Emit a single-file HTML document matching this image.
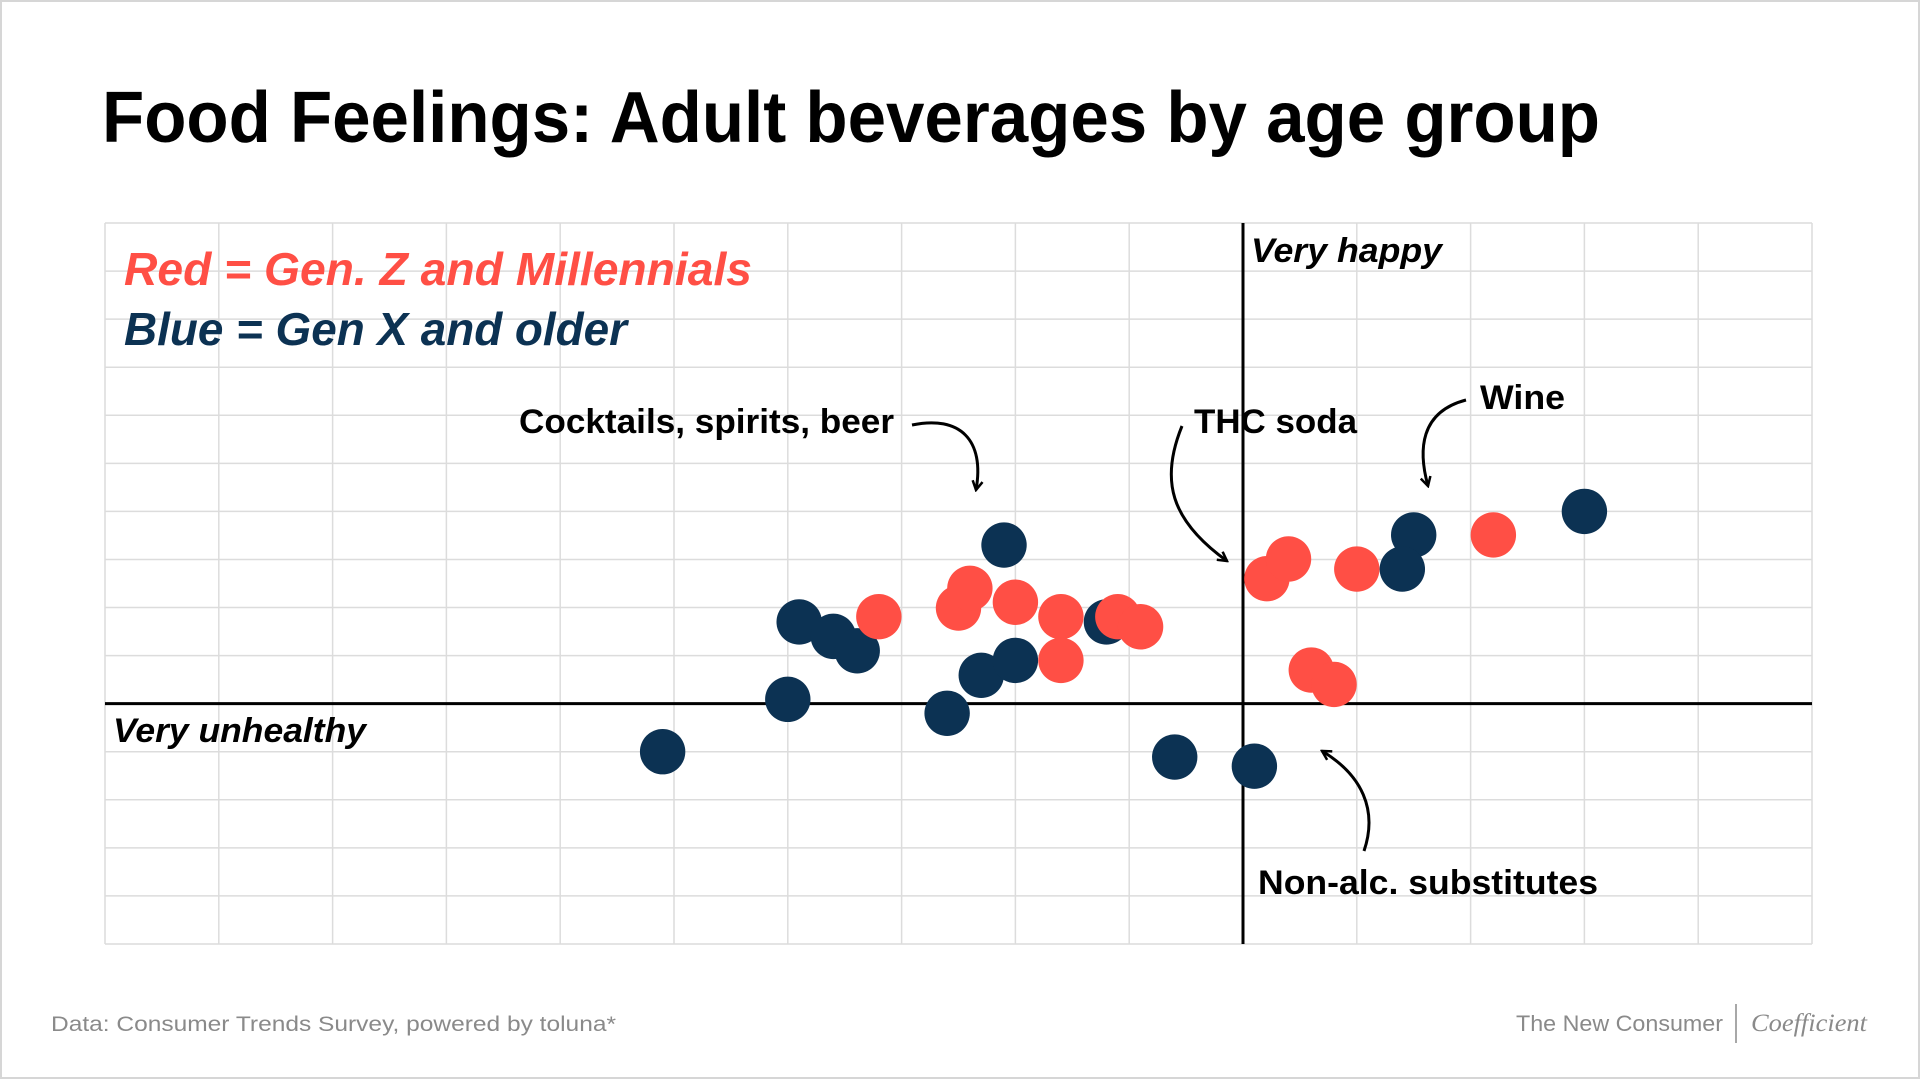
<!DOCTYPE html>
<html><head><meta charset="utf-8"><style>
html,body{margin:0;padding:0;background:#fff;}
svg{display:block;font-family:"Liberation Sans",sans-serif;}
</style></head><body>
<svg id="chart" width="1920" height="1080" viewBox="0 0 1920 1080">
<defs>
<marker id="ah" viewBox="0 0 12 12" refX="10" refY="6" markerWidth="12" markerHeight="12" markerUnits="userSpaceOnUse" orient="auto">
<path d="M1,1 L10,6 L1,11" fill="none" stroke="#000" stroke-width="2.5"/>
</marker>
</defs>
<rect x="1" y="1" width="1918" height="1077" fill="#fff" stroke="#d6d6d6" stroke-width="2"/>
<text x="102" y="142" font-size="72" font-weight="bold" fill="#000" textLength="1498" lengthAdjust="spacingAndGlyphs">Food Feelings: Adult beverages by age group</text>
<g id="grid"></g>
<g id="axes"></g>
<g id="pts"></g>
<text x="124" y="285" font-size="46" font-weight="bold" font-style="italic" fill="#FF4F45" textLength="628" lengthAdjust="spacingAndGlyphs">Red = Gen. Z and Millennials</text>
<text x="124" y="345" font-size="46" font-weight="bold" font-style="italic" fill="#0C3253" textLength="503" lengthAdjust="spacingAndGlyphs">Blue = Gen X and older</text>
<text x="1251" y="262" font-size="34" font-weight="bold" font-style="italic" fill="#000" textLength="191" lengthAdjust="spacingAndGlyphs">Very happy</text>
<text x="113" y="742" font-size="34" font-weight="bold" font-style="italic" fill="#000" textLength="253" lengthAdjust="spacingAndGlyphs">Very unhealthy</text>
<text x="519" y="433" font-size="34" font-weight="bold" fill="#000" textLength="375" lengthAdjust="spacingAndGlyphs">Cocktails, spirits, beer</text>
<text x="1194" y="433" font-size="34" font-weight="bold" fill="#000" textLength="163" lengthAdjust="spacingAndGlyphs">THC soda</text>
<text x="1480" y="409" font-size="34" font-weight="bold" fill="#000" textLength="85" lengthAdjust="spacingAndGlyphs">Wine</text>
<text x="1258" y="894" font-size="34" font-weight="bold" fill="#000" textLength="340" lengthAdjust="spacingAndGlyphs">Non-alc. substitutes</text>
<g fill="none" stroke="#000" stroke-width="3" marker-end="url(#ah)">
<path d="M912,425 C960,415 985,440 976,490"/>
<path d="M1182,426 C1160,480 1170,520 1227,561"/>
<path d="M1466,400 C1420,412 1418,450 1428,486"/>
<path d="M1364,851 C1378,810 1362,775 1322,751"/>
</g>
<text x="51" y="1031" font-size="21" fill="#8a8a8a" textLength="565" lengthAdjust="spacingAndGlyphs">Data: Consumer Trends Survey, powered by toluna*</text>
<text x="1516" y="1031" font-size="22" fill="#8a8a8a" textLength="207" lengthAdjust="spacingAndGlyphs">The New Consumer</text>
<line x1="1736" y1="1004" x2="1736" y2="1043" stroke="#8a8a8a" stroke-width="1.5"/>
<text x="1751" y="1031" font-size="25" font-style="italic" fill="#8a8a8a" font-family="Liberation Serif, serif" textLength="116" lengthAdjust="spacingAndGlyphs">Coefficient</text>
</svg>
<script>
const blueX = [-2.1, -3.9, -3.6, -3.39, -4.0, -2.6, -2.3, -2.0, -1.2, -5.1, -0.6, 1.5, 1.4, 3.0, 0.1];
const blueY = [3.3, 1.7, 1.4, 1.1, 0.09, -0.2, 0.59, 0.9, 1.7, -1.0, -1.11, 3.51, 2.8, 4.0, -1.3];
const redX = [-3.2, -2.5, -2.4, -2.0, -1.6, -1.6, -1.1, -0.9, 0.21, 0.4, 1.0, 2.2, 0.6, 0.8];
const redY = [1.81, 1.99, 2.4, 2.11, 1.81, 0.9, 1.81, 1.6, 2.6, 3.01, 2.8, 3.51, 0.7, 0.4];
const xDomain = [-10, 5];
const yDomain = [-5, 10];

const NS = 'http://www.w3.org/2000/svg';
const L = 105, R = 1812, T = 223, B = 944;
function sx(v){ return L + (v - xDomain[0]) / (xDomain[1] - xDomain[0]) * (R - L); }
function sy(v){ return B - (v - yDomain[0]) / (yDomain[1] - yDomain[0]) * (B - T); }
function mk(tag, attrs, parent){ const e = document.createElementNS(NS, tag); for (const k in attrs) e.setAttribute(k, attrs[k]); parent.appendChild(e); return e; }

const grid = document.getElementById('grid');
for (let v = xDomain[0]; v <= xDomain[1]; v++) {
  const l = mk('line', {x1: sx(v), x2: sx(v), y1: T, y2: B, stroke: '#dcdcdc', 'stroke-width': 1.5}, grid);
  
  
}
for (let v = yDomain[0]; v <= yDomain[1]; v++) {
  const l = mk('line', {x1: L, x2: R, y1: sy(v), y2: sy(v), stroke: '#dcdcdc', 'stroke-width': 1.5}, grid);
  
  
}
const axes = document.getElementById('axes');
const xa = mk('line', {x1: L, x2: R, y1: sy(0), y2: sy(0), stroke: '#000', 'stroke-width': 3}, axes);


const ya = mk('line', {x1: sx(0), x2: sx(0), y1: T, y2: B, stroke: '#000', 'stroke-width': 3}, axes);



const pts = document.getElementById('pts');
for (let i = 0; i < blueX.length; i++) {
  const c = mk('circle', {cx: sx(blueX[i]), cy: sy(blueY[i]), r: 22.7, fill: '#0C3253'}, pts);
  
  
}
for (let i = 0; i < redX.length; i++) {
  const c = mk('circle', {cx: sx(redX[i]), cy: sy(redY[i]), r: 22.7, fill: '#FF4F45'}, pts);
  
  
}
</script>
</body></html>
